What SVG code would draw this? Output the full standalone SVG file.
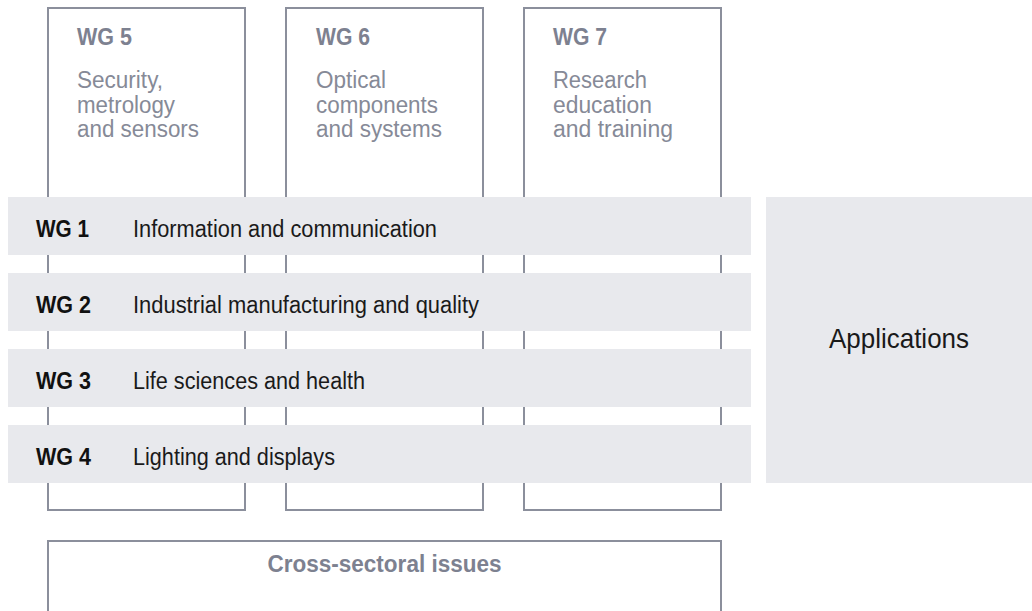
<svg xmlns="http://www.w3.org/2000/svg" width="1032" height="611" viewBox="0 0 1032 611">
  <style>
    .frame { fill: #ffffff; stroke: #8b8f9c; stroke-width: 2; }
    .band { fill: #e8e9ed; }
    text { font-family: "Liberation Sans", Arial, sans-serif; font-size: 23.5px; }
    .wg { font-weight: bold; fill: #111111; }
    .desc { fill: #1a1a1a; }
    .gwg { font-weight: bold; fill: #7d8190; }
    .gdesc { fill: #868a97; }
    .app { font-size: 28px; fill: #1a1a1a; text-anchor: middle; }
  </style>

  <g id="wg5">
    <rect class="frame" x="48" y="8" width="197" height="502"/>
    <text class="gwg" x="77" y="45" textLength="55" lengthAdjust="spacingAndGlyphs">WG 5</text>
    <text class="gdesc" x="77" y="88" textLength="86" lengthAdjust="spacingAndGlyphs">Security,</text>
    <text class="gdesc" x="77" y="113" textLength="98" lengthAdjust="spacingAndGlyphs">metrology</text>
    <text class="gdesc" x="77" y="137" textLength="122" lengthAdjust="spacingAndGlyphs">and sensors</text>
  </g>
  <g id="wg6">
    <rect class="frame" x="286" y="8" width="197" height="502"/>
    <text class="gwg" x="316" y="45" textLength="54" lengthAdjust="spacingAndGlyphs">WG 6</text>
    <text class="gdesc" x="316" y="88" textLength="70" lengthAdjust="spacingAndGlyphs">Optical</text>
    <text class="gdesc" x="316" y="113" textLength="122" lengthAdjust="spacingAndGlyphs">components</text>
    <text class="gdesc" x="316" y="137" textLength="126" lengthAdjust="spacingAndGlyphs">and systems</text>
  </g>
  <g id="wg7">
    <rect class="frame" x="524" y="8" width="197" height="502"/>
    <text class="gwg" x="553" y="45" textLength="54" lengthAdjust="spacingAndGlyphs">WG 7</text>
    <text class="gdesc" x="553" y="88" textLength="94" lengthAdjust="spacingAndGlyphs">Research</text>
    <text class="gdesc" x="553" y="113" textLength="99" lengthAdjust="spacingAndGlyphs">education</text>
    <text class="gdesc" x="553" y="137" textLength="120" lengthAdjust="spacingAndGlyphs">and training</text>
  </g>

  <g id="wg1">
    <rect class="band" x="8" y="197" width="743" height="58"/>
    <text class="wg" x="36" y="237" textLength="53" lengthAdjust="spacingAndGlyphs">WG 1</text>
    <text class="desc" x="133" y="237" textLength="304" lengthAdjust="spacingAndGlyphs">Information and communication</text>
  </g>
  <g id="wg2">
    <rect class="band" x="8" y="273" width="743" height="58"/>
    <text class="wg" x="36" y="313" textLength="55" lengthAdjust="spacingAndGlyphs">WG 2</text>
    <text class="desc" x="133" y="313" textLength="346" lengthAdjust="spacingAndGlyphs">Industrial manufacturing and quality</text>
  </g>
  <g id="wg3">
    <rect class="band" x="8" y="349" width="743" height="58"/>
    <text class="wg" x="36" y="389" textLength="55" lengthAdjust="spacingAndGlyphs">WG 3</text>
    <text class="desc" x="133" y="389" textLength="232" lengthAdjust="spacingAndGlyphs">Life sciences and health</text>
  </g>
  <g id="wg4">
    <rect class="band" x="8" y="425" width="743" height="58"/>
    <text class="wg" x="36" y="465" textLength="55" lengthAdjust="spacingAndGlyphs">WG 4</text>
    <text class="desc" x="133" y="465" textLength="202" lengthAdjust="spacingAndGlyphs">Lighting and displays</text>
  </g>

  <g id="applications">
    <rect class="band" x="766" y="197" width="266" height="286"/>
    <text class="app" x="899" y="348" textLength="140" lengthAdjust="spacingAndGlyphs">Applications</text>
  </g>

  <g id="cross-sectoral">
    <rect class="frame" x="48" y="541" width="673" height="80"/>
    <text class="gwg" x="384.5" y="572" text-anchor="middle" textLength="234" lengthAdjust="spacingAndGlyphs">Cross-sectoral issues</text>
  </g>
</svg>
